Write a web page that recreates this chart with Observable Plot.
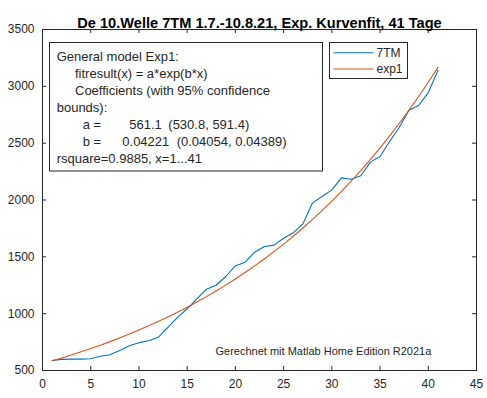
<!DOCTYPE html>
<html><head><meta charset="utf-8">
<script src="https://cdn.jsdelivr.net/npm/d3@7"></script>
<script src="https://cdn.jsdelivr.net/npm/@observablehq/plot@0.6"></script>
<style>body{margin:0;background:#fff;font-family:"Liberation Sans",Arial,sans-serif}</style>
</head><body><div id="chart"></div>
<script>
// ---- data ----
const days = [1,2,3,4,5,6,7,8,9,10,11,12,13,14,15,16,17,18,19,20,21,22,23,24,25,26,27,28,29,30,31,32,33,34,35,36,37,38,39,40,41];
const tm7 = [588,598,600,600,604,626,638,676,718,745,762,792,880,968,1043,1130,1215,1250,1327,1420,1453,1541,1591,1603,1664,1711,1790,1975,2031,2089,2195,2183,2213,2333,2383,2517,2640,2790,2831,2945,3140];
const exp1 = [585.3,610.5,636.8,664.3,692.9,722.8,754.0,786.5,820.4,855.8,892.7,931.2,971.3,1013.2,1056.9,1102.4,1150.0,1199.6,1251.3,1305.2,1361.5,1420.2,1481.4,1545.3,1611.9,1681.4,1753.9,1829.5,1908.4,1990.7,2076.5,2166.0,2259.4,2356.8,2458.5,2564.5,2675.1,2790.4,2910.7,3036.1,3167.0];
const seriesNames = ["7TM", "exp1"];
const seriesColors = ["#0072BD", "#D95319"];
const xTicks = [0,5,10,15,20,25,30,35,40,45];
const yTicks = [500,1000,1500,2000,2500,3000,3500];
const titleText = "De 10.Welle 7TM 1.7.-10.8.21, Exp. Kurvenfit, 41 Tage";
const noteText = "Gerechnet mit Matlab Home Edition R2021a";
const fitLines = [
  [["General model Exp1:", 0]],
  [["fitresult(x) = a*exp(b*x)", 18.3]],
  [["Coefficients (with 95% confidence", 18.3]],
  [["bounds):", 0]],
  [["a =", 26], ["561.1", 72.6], ["(530.8, 591.4)", 111.6]],
  [["b =", 26], ["0.04221", 65.6], ["(0.04054, 0.04389)", 120]],
  [["rsquare=0.9885, x=1...41", 0]]
];

const data = days.flatMap((d, i) => [
  {day: d, value: tm7[i], series: seriesNames[0]},
  {day: d, value: exp1[i], series: seriesNames[1]}
]);

const W = 487, H = 398, mL = 42, mR = 11, mT = 29, mB = 28;
const fw = W - mL - mR, fh = H - mT - mB;
const tk = 4;
const ink = "#262626";
const font = '"Liberation Sans", Arial, sans-serif';

function overlay(index, scales, values, dims) {
  const g = d3.create("svg:g").attr("font-family", font).attr("fill", ink).attr("text-anchor", "start");
  const L = dims.marginLeft, T = dims.marginTop;
  // fit info box
  const bx = L + 7.5, by = T + 13.5;
  g.append("rect").attr("x", bx).attr("y", by).attr("width", 273).attr("height", 128.5)
    .attr("fill", "#fff").attr("stroke", ink);
  fitLines.forEach((parts, i) => {
    parts.forEach(([s, off]) => {
      g.append("text").attr("x", bx + 7.2 + off).attr("y", T + 27.7 + i * 16.95)
        .attr("dy", "0.35em").attr("font-size", 13).attr("text-anchor", "start").text(s);
    });
  });
  // legend
  const lx = L + 287.5, ly = T + 13.5;
  g.append("rect").attr("x", lx).attr("y", ly).attr("width", 78).attr("height", 36)
    .attr("fill", "#fff").attr("stroke", ink);
  seriesNames.forEach((s, i) => {
    const yy = ly + 10.2 + i * 16.3;
    g.append("line").attr("x1", lx + 4).attr("x2", lx + 44).attr("y1", yy).attr("y2", yy)
      .attr("stroke", seriesColors[i]).attr("stroke-width", 1.1);
    g.append("text").attr("x", lx + 47).attr("y", yy).attr("dy", "0.35em")
      .attr("font-size", 12).attr("text-anchor", "start").text(s);
  });
  return g.node();
}

const chart = Plot.plot({
  width: W, height: H,
  marginLeft: mL, marginRight: mR, marginTop: mT, marginBottom: mB,
  style: {fontFamily: font, fontSize: "12px", color: ink, background: "#fff", overflow: "visible"},
  x: {domain: [0, 45]},
  y: {domain: [500, 3500]},
  color: {domain: seriesNames, range: seriesColors},
  marks: [
    Plot.lineY(data, {x: "day", y: "value", stroke: "series", strokeWidth: 1.1}),
    Plot.frame({stroke: ink}),
    Plot.tickX(xTicks, {x: d => d, insetTop: fh - tk, stroke: ink}),
    Plot.tickX(xTicks, {x: d => d, insetBottom: fh - tk, stroke: ink}),
    Plot.tickY(yTicks, {y: d => d, insetRight: fw - tk, stroke: ink}),
    Plot.tickY(yTicks, {y: d => d, insetLeft: fw - tk, stroke: ink}),
    Plot.axisX({ticks: xTicks, tickSize: 0, tickPadding: 9, fontSize: 12, label: null, fill: ink, tickFormat: d => String(d)}),
    Plot.axisY({ticks: yTicks, tickSize: 0, tickPadding: 8, fontSize: 12, label: null, fill: ink, tickFormat: d => String(d)}),
    Plot.text([titleText], {frameAnchor: "top", dy: -12.3, fontWeight: "bold", fontSize: 14.6, fill: "#000"}),
    Plot.text([noteText], {frameAnchor: "bottom-left", dx: 173, dy: -16, textAnchor: "start", fontSize: 11, fill: ink}),
    overlay
  ]
});
document.getElementById("chart").append(chart);
</script>
</body></html>
